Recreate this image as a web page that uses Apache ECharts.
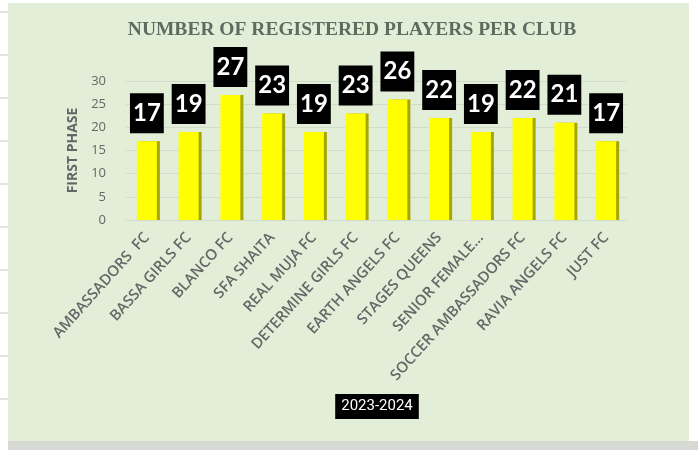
<!DOCTYPE html>
<html><head><meta charset="utf-8">
<script src="https://cdn.jsdelivr.net/npm/echarts@6/dist/echarts.min.js"></script>
<style>html,body{margin:0;padding:0;background:#fff}#c{width:698px;height:450px}</style>
</head><body><div id="c"></div>
<script>
const clubs = ["AMBASSADORS  FC","BASSA GIRLS FC","BLANCO FC","SFA SHAITA","REAL MUJA FC","DETERMINE GIRLS FC","EARTH ANGELS FC","STAGES QUEENS","SENIOR FEMALE...","SOCCER AMBASSADORS FC","RAVIA ANGELS FC","JUST FC"];
const players = [17,19,27,23,19,23,26,22,19,22,21,17];
const yTicks = [0,5,10,15,20,25,30];
const seriesName = "2023-2024";

const chart = echarts.init(document.getElementById('c'));
const leftLines = [];
for (let y = 12; y < 440; y += 43) {
  leftLines.push({type:'line', shape:{x1:0,y1:y,x2:8,y2:y}, style:{stroke:'#c8c8c8',lineWidth:1}});
}
chart.setOption({
  backgroundColor:'#ffffff',
  graphic:[
    {type:'rect', z:-10, shape:{x:8,y:3,width:681,height:438}, style:{fill:'#e3eed9'}},
    {type:'rect', z:-10, shape:{x:8,y:441,width:690,height:9}, style:{fill:'#d6d9d4'}}
  ].concat(leftLines),
  title:[{
    text:'NUMBER OF REGISTERED PLAYERS PER CLUB',
    left:347, top:15, textAlign:'center',
    textStyle:{fontFamily:'Liberation Serif', fontWeight:'bold', fontSize:19.5, color:'#5e6b5e'}
  },{
    text:seriesName, left:371, top:394, textAlign:'center',
    backgroundColor:'#000', padding:[5,6,5,6],
    textStyle:{fontFamily:'Roboto', fontSize:15, color:'#fff', fontWeight:'normal'}
  }],
  grid:{left:126, right:71, top:81, bottom:230},
  xAxis:{
    type:'category', data:clubs,
    axisLine:{show:false}, axisTick:{show:false},
    axisLabel:{rotate:48, interval:0, margin:15, color:'#666', fontSize:15, fontWeight:600, fontFamily:'Open Sans'}
  },
  yAxis:{
    type:'value', min:0, max:30, interval:5,
    name:'FIRST PHASE', nameLocation:'middle', nameGap:34, nameRotate:90,
    nameTextStyle:{color:'#666', fontSize:14, fontWeight:'bold', fontFamily:'Open Sans'},
    axisLine:{show:false}, axisTick:{show:false},
    axisLabel:{color:'#666', fontSize:13, fontFamily:'Open Sans', margin:20,
      formatter:v=> yTicks.includes(v)? String(v):''},
    splitLine:{lineStyle:{color:'#d2dccb'}}
  },
  series:[{
    type:'bar', name:seriesName, data:players, barWidth:20,
    itemStyle:{color:'#ffff00', shadowColor:'#a6a600', shadowOffsetX:3, shadowOffsetY:0, shadowBlur:0},
    label:{show:true, position:'top', distance:8, backgroundColor:'#000', color:'#fff',
      fontFamily:'Lato', fontWeight:'bold', fontSize:24, lineHeight:24, padding:[8,3,8,3]}
  }]
});
</script></body></html>
